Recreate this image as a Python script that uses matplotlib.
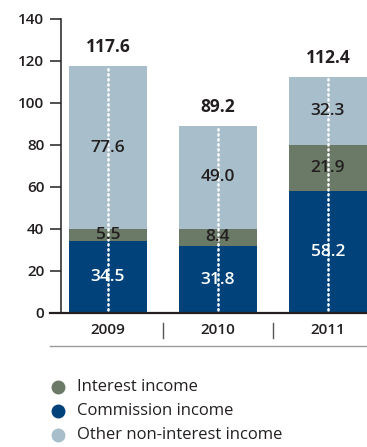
import matplotlib
matplotlib.use("Agg")
import matplotlib.pyplot as plt
from matplotlib.lines import Line2D
from matplotlib.transforms import blended_transform_factory

plt.rcParams['font.family'] = ['Open Sans', 'DejaVu Sans']

years = ["2009", "2010", "2011"]
commission = [34.5, 31.8, 58.2]
interest = [5.5, 8.4, 21.9]
other = [77.6, 49.0, 32.3]
totals = [117.6, 89.2, 112.4]
yticks = [0, 20, 40, 60, 80, 100, 120, 140]

c_comm = "#004279"
c_int = "#6b7a66"
c_other = "#a8bfcb"
c_text = "#231f20"

W, H = 367, 447
fig = plt.figure(figsize=(W / 100, H / 100), dpi=100)

def fx(px):
    return px / W

def fy(py):
    return 1 - py / H

ax = fig.add_axes([fx(61), fy(313), fx(367) - fx(61), fy(19) - fy(313)])
ax.set_xlim(-0.427, 2.355)
ax.set_ylim(0, 140)

x = list(range(len(years)))
bw = 0.71
ax.bar(x, commission, bw, color=c_comm, zorder=2)
ax.bar(x, interest, bw, bottom=commission, color=c_int, zorder=2)
base3 = [c + i for c, i in zip(commission, interest)]
ax.bar(x, other, bw, bottom=base3, color=c_other, zorder=2)

# dotted centre line through each bar
for xi, t in zip(x, totals):
    ax.plot([xi, xi], [1.5, t], color="white", lw=1.8,
            linestyle=(0, (0.5, 1.5)), dash_capstyle="round", zorder=3)

val_kw = dict(ha="center", va="center", fontsize=12.5, fontweight="semibold", zorder=4)
for xi, c, i, o, t, b in zip(x, commission, interest, other, totals, base3):
    ax.text(xi, c / 2, f"{c:.1f}", color="white", **val_kw)
    ax.text(xi, c + i / 2, f"{i:.1f}", color=c_text, **val_kw)
    ax.text(xi, min(b + o / 2, t - 16), f"{o:.1f}", color=c_text, **val_kw)
    ax.text(xi, t + 9, f"{t:.1f}", color=c_text, ha="center", va="center",
            fontsize=12.5, fontweight="bold", zorder=4)

for s in ["top", "right", "bottom"]:
    ax.spines[s].set_visible(False)
ax.spines["left"].set_linewidth(1.1)
ax.spines["left"].set_color(c_text)
ax.set_yticks(yticks)
ax.set_yticklabels([str(v) for v in yticks])
ax.tick_params(axis="y", direction="out", length=8, width=1.1, color=c_text,
               pad=4, labelsize=11, labelcolor=c_text)
for lab in ax.get_yticklabels():
    lab.set_fontweight("semibold")
ax.set_xticks([])

# baseline and lower rule
fig.add_artist(Line2D([fx(50), 1], [fy(313), fy(313)], color=c_text, lw=1.6))
fig.add_artist(Line2D([fx(50), 1], [fy(345.5), fy(345.5)], color="#9a9a9a", lw=1.0))

tr = blended_transform_factory(ax.transData, fig.transFigure)
for xi, yr in zip(x, years):
    ax.text(xi, fy(330), yr, transform=tr, ha="center", va="center",
            fontsize=11, fontweight="semibold", color=c_text)
for xs in [0.5, 1.5]:
    fig.add_artist(Line2D([xs, xs], [fy(323), fy(338)], color="#555555", lw=1.0,
                          transform=tr))

# legend
legend_items = [("Interest income", c_int), ("Commission income", c_comm),
                ("Other non-interest income", c_other)]
for k, (lab, col) in enumerate(legend_items):
    yy = fy(387 + 24 * k)
    fig.add_artist(Line2D([fx(57.5)], [yy], marker="o", markersize=9, color=col,
                          linestyle="none"))
    fig.text(fx(77), yy, lab, ha="left", va="center", fontsize=12, color=c_text)

fig.savefig("out.png", dpi=100)
